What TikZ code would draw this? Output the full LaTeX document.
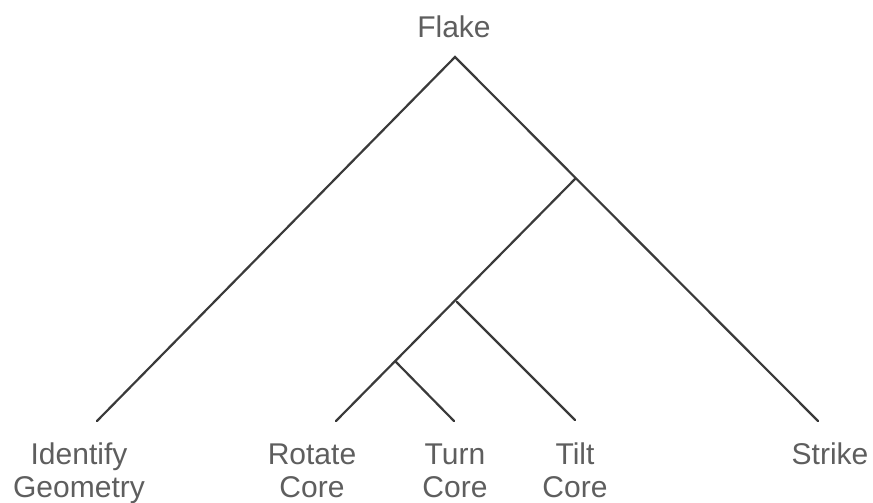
\documentclass[tikz,border=0pt]{standalone}
\usepackage{fontspec}
\setmainfont{Liberation Sans}
\definecolor{txt}{HTML}{5E5E5E}
\definecolor{ln}{HTML}{3A3A3A}
\begin{document}
\begin{tikzpicture}[x=1pt,y=-1pt,
  edge/.style={draw=ln,line width=2.2pt,line cap=round},
  lbl/.style={text=txt,font=\fontsize{30}{33}\selectfont,align=center,inner sep=0pt}]
\useasboundingbox (0,0) rectangle (873,503);
\coordinate (root) at (455,57);
\coordinate (j1) at (575,179);
\coordinate (j2) at (457,302);
\coordinate (j3) at (396,362);
\coordinate (lId) at (97,421);
\coordinate (lRo) at (336,421);
\coordinate (lTu) at (454,421);
\coordinate (lTi) at (575,420);
\coordinate (lSt) at (818,421);
\draw[edge] (lId) -- (root) -- (lSt);
\draw[edge] (j1) -- (lRo);
\draw[edge] (j2) -- (lTi);
\draw[edge] (j3) -- (lTu);
\node[lbl,anchor=base] (flake) at (454,38) {Flake};
\node[lbl,anchor=base] (id) at (79,497) {Identify\\Geometry};
\node[lbl,anchor=base] (ro) at (312,497) {Rotate\\Core};
\node[lbl,anchor=base] (tu) at (455,497) {Turn\\Core};
\node[lbl,anchor=base] (ti) at (575,497) {Tilt\\Core};
\node[lbl,anchor=base] (st) at (830,464) {Strike};
\end{tikzpicture}
\end{document}
